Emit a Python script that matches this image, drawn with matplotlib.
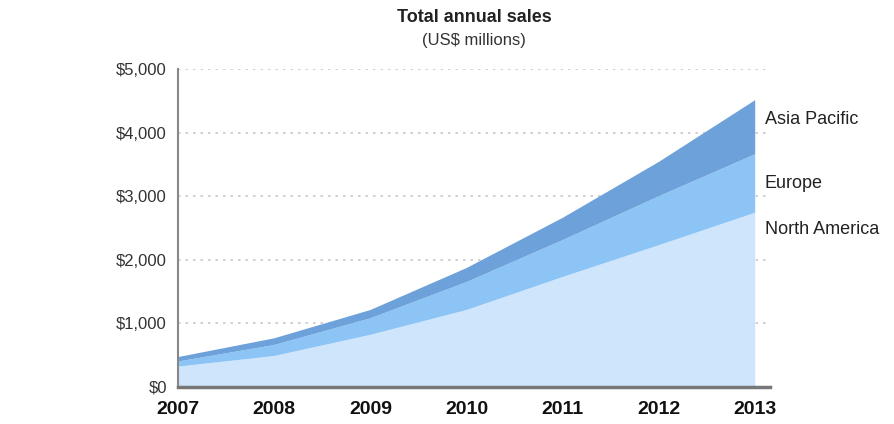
import matplotlib
matplotlib.use("Agg")
import matplotlib.pyplot as plt
from matplotlib import font_manager

years = [2007, 2008, 2009, 2010, 2011, 2012, 2013]
north_america = [320, 487, 820, 1210, 1730, 2230, 2740]
europe = [80, 173, 260, 440, 580, 770, 920]
asia_pacific = [70, 105, 130, 220, 350, 540, 850]
series_names = ["North America", "Europe", "Asia Pacific"]
yticks = [0, 1000, 2000, 3000, 4000, 5000]
ytick_labels = ["$0", "$1,000", "$2,000", "$3,000", "$4,000", "$5,000"]

names = {f.name for f in font_manager.fontManager.ttflist}
fam = "Liberation Sans Narrow" if "Liberation Sans Narrow" in names else "Liberation Sans"
plt.rcParams["font.family"] = [fam, "DejaVu Sans"]

fig = plt.figure(figsize=(8.95, 4.24), dpi=100)
ax = fig.add_axes([178/895, 37/424, 592/895, 318/424])

colors = ["#cfe5fc", "#8dc4f6", "#6da1da"]
ax.stackplot(years, north_america, europe, asia_pacific, colors=colors, labels=series_names,
             linewidth=0, zorder=2)

ax.set_xlim(2007, 2007 + 592/96.2)
ax.set_ylim(0, 5000)
ax.set_yticks(yticks)
ax.set_yticklabels(ytick_labels, fontsize=12, color="#333333")
ax.set_xticks(years)
ax.set_xticklabels([str(y) for y in years], fontsize=14, fontweight="bold", color="#111111")
ax.tick_params(axis="both", length=0)
ax.tick_params(axis="y", pad=8)
ax.tick_params(axis="x", pad=10)

ax.grid(axis="y", color="#c8c8c8", linestyle=(0, (1.5, 3)), linewidth=1.2, zorder=1)
ax.set_axisbelow(True)
for s in ["top", "right"]:
    ax.spines[s].set_visible(False)
ax.spines["left"].set_color("#888888")
ax.spines["left"].set_linewidth(1.5)
ax.spines["bottom"].set_color("#777777")
ax.spines["bottom"].set_linewidth(2.5)
ax.spines["bottom"].set_zorder(5)

label_y = [2470, 3200, 4200]
for name, yv in zip(series_names, label_y):
    ax.annotate(name, xy=(years[-1], yv), xytext=(7, 0), textcoords="offset points",
                ha="left", va="center", fontsize=13, color="#222222", annotation_clip=False)

fig.text(474/895, 1 - 17/424, "Total annual sales", ha="center", va="center",
         fontsize=13, fontweight="bold", color="#222222")
fig.text(474/895, 1 - 40/424, "(US$ millions)", ha="center", va="center",
         fontsize=12, color="#333333")

fig.savefig("out.png", dpi=100)
